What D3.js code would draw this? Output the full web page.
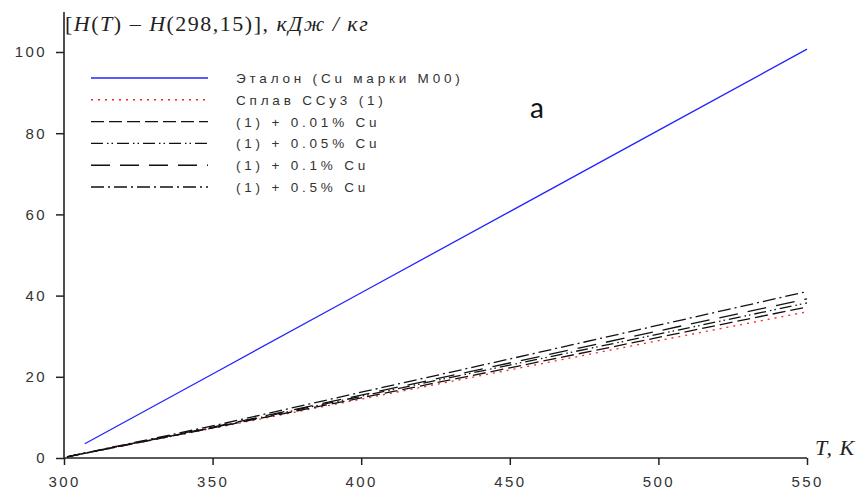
<!DOCTYPE html>
<html>
<head>
<meta charset="utf-8">
<script src="https://cdn.jsdelivr.net/npm/d3@7"></script>
<style>
  body { margin: 0; background: #fff; }
  #chart { width: 860px; height: 497px; }
  .tick text { font-family: Arial, "Liberation Sans", sans-serif; font-size: 15px; fill: #333; letter-spacing: 2.4px; }
</style>
</head>
<body>
<div id="chart"></div>
<script>
// temperatures, K
const tRef = [307, 350, 400, 450, 500, 550];
const tAlloy = [301, 350, 400, 450, 500, 550];

// enthalpy increments, kJ/kg
const etalon = [3.5, 20.7, 40.7, 60.7, 80.7, 100.7];
const ssu3 = [0.3, 7.3, 14.5, 21.7, 28.9, 36.0];
const cu001 = [0.3, 7.4, 14.8, 22.2, 29.7, 37.2];
const cu005 = [0.3, 7.5, 15.2, 22.9, 30.5, 38.2];
const cu01 = [0.3, 7.6, 15.5, 23.4, 31.3, 39.2];
const cu05 = [0.3, 7.9, 16.2, 24.4, 32.7, 41.0];

const seriesNames = ["Эталон (Cu марки М00)", "Сплав ССу3 (1)", "(1) + 0.01% Cu", "(1) + 0.05% Cu", "(1) + 0.1% Cu", "(1) + 0.5% Cu"];
const xTicks = [300, 350, 400, 450, 500, 550];
const yTicks = [0, 20, 40, 60, 80, 100];

const series = [
  {name: seriesNames[0], t: tRef, v: etalon, color: "#2323ff", dash: null},
  {name: seriesNames[1], t: tAlloy, v: ssu3, color: "#ff2020", dash: "2,5"},
  {name: seriesNames[2], t: tAlloy, v: cu001, color: "#111", dash: "13,5"},
  {name: seriesNames[3], t: tAlloy, v: cu005, color: "#111", dash: "12,4,1.5,3,1.5,4"},
  {name: seriesNames[4], t: tAlloy, v: cu01, color: "#111", dash: "19,10"},
  {name: seriesNames[5], t: tAlloy, v: cu05, color: "#111", dash: "13,4,2,4"}
];

const width = 860, height = 497;
const x = d3.scaleLinear().domain([300, 550]).range([64, 807]);
const y = d3.scaleLinear().domain([0, 100]).range([458, 52]);

const svg = d3.select("#chart").append("svg")
    .attr("width", width)
    .attr("height", height);

// axes
const xAxis = svg.append("g")
    .attr("transform", `translate(0,${y(0)})`)
    .call(d3.axisBottom(x).tickValues(xTicks).tickSize(7).tickPadding(11).tickSizeOuter(0));
const yAxis = svg.append("g")
    .attr("transform", `translate(${x(300)},0)`)
    .call(d3.axisLeft(y).tickValues(yTicks).tickSize(8).tickPadding(9).tickSizeOuter(0));
svg.selectAll(".domain").remove();
svg.selectAll(".tick line").attr("stroke", "#222").attr("stroke-width", 1.5);

svg.append("line")
    .attr("x1", x(300)).attr("x2", x(300))
    .attr("y1", 12).attr("y2", y(0))
    .attr("stroke", "#222").attr("stroke-width", 1.6);
svg.append("line")
    .attr("x1", x(300)).attr("x2", x(550))
    .attr("y1", y(0)).attr("y2", y(0))
    .attr("stroke", "#222").attr("stroke-width", 1.6);

// lines
const line = d3.line().x(d => x(d[0])).y(d => y(d[1]));
svg.append("g").selectAll("path")
    .data(series)
    .enter()
    .append("path")
        .attr("d", s => line(s.t.map((t, i) => [t, s.v[i]])))
        .attr("fill", "none")
        .attr("stroke", s => s.color)
        .attr("stroke-width", 1.3)
        .attr("stroke-dasharray", s => s.dash);

// legend
const legend = svg.append("g");
series.forEach((s, i) => {
    const ly = 78 + i * 21.8;
    legend.append("line")
        .attr("x1", 91).attr("x2", 208)
        .attr("y1", ly).attr("y2", ly)
        .attr("stroke", s.color)
        .attr("stroke-width", 1.4)
        .attr("stroke-dasharray", s.dash);
    legend.append("text")
        .text(s.name)
        .attr("x", 236)
        .attr("y", ly + 5)
        .attr("font-family", "Arial, 'Liberation Sans', sans-serif")
        .attr("font-size", 13.5)
        .attr("letter-spacing", 3.8)
        .attr("fill", "#333");
});

// axis titles, italic for the symbols
const yTitle = svg.append("text")
    .attr("x", 65).attr("y", 31)
    .attr("font-family", "'Liberation Serif', 'DejaVu Serif', serif")
    .attr("font-size", 22)
    .attr("letter-spacing", 1.5)
    .attr("fill", "#222");
[["[", false], ["H", true], ["(", false], ["T", true], [")", false], [" – ", false],
 ["H", true], ["(298,15)],", false], [" кДж / кг", true]].forEach(p => {
    yTitle.append("tspan").text(p[0]).attr("font-style", p[1] ? "italic" : "normal");
});

svg.append("text")
    .text("T, K")
    .attr("x", 815).attr("y", 455)
    .attr("font-family", "'Liberation Serif', 'DejaVu Serif', serif")
    .attr("font-style", "italic")
    .attr("font-size", 22)
    .attr("letter-spacing", 1)
    .attr("fill", "#222");

svg.append("text")
    .text("а")
    .attr("x", 530).attr("y", 118)
    .attr("font-family", "Lato, 'Open Sans', sans-serif")
    .attr("font-size", 28)
    .attr("fill", "#111");
</script>
</body>
</html>
